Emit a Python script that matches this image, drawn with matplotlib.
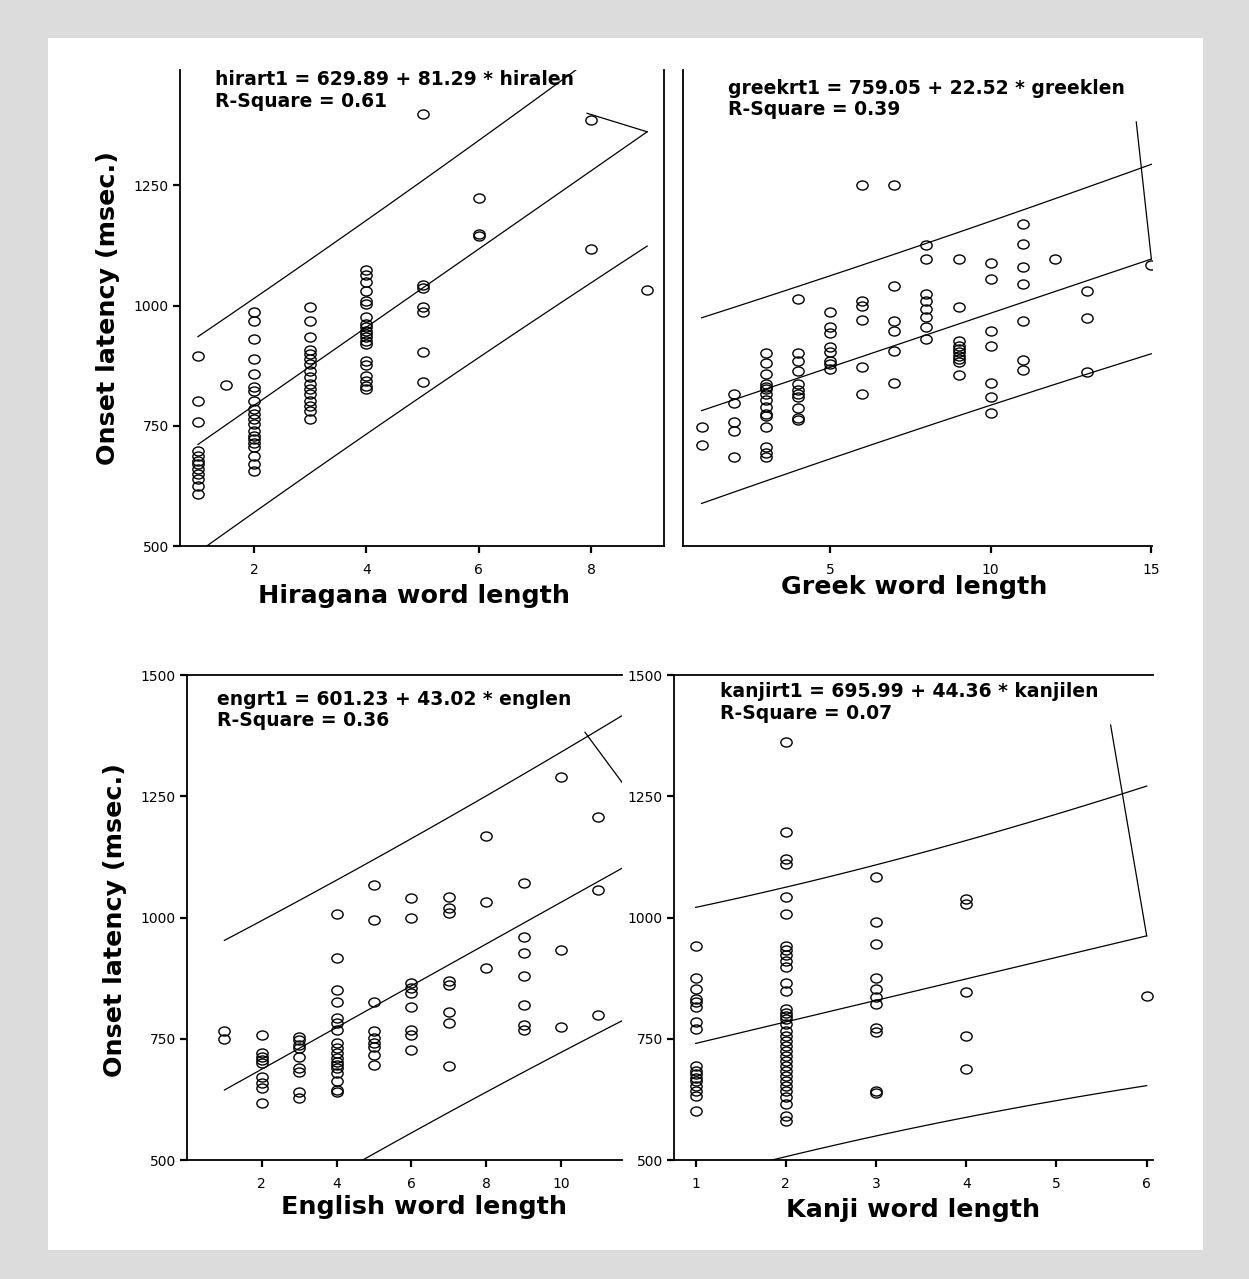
import numpy as np
import matplotlib
matplotlib.use("Agg")
import matplotlib.pyplot as plt
from matplotlib.markers import MarkerStyle
from matplotlib.patches import Rectangle
from matplotlib.transforms import Affine2D

# ---- data ----
hira_x = [1] * 12 + [1.5] + [2] * 20 + [3] * 16 + [4] * 20 + [5] * 7 + [6] * 3 + [8] * 2 + [9]
hira_y = [896, 802, 757, 698, 688, 677, 670, 660, 649, 639, 625, 608,
          835,
          986, 969, 931, 889, 858, 830, 822, 802, 785, 774, 764, 754, 740, 729, 722, 715, 705, 688, 670, 656,
          997, 969, 935, 908, 899, 889, 879, 865, 851, 837, 826, 816, 802, 792, 781, 764,
          1073, 1063, 1049, 1031, 1010, 1004, 976, 962, 955, 948, 941, 934, 927, 920, 885, 877, 854, 844, 833, 826,
          1399, 1042, 1036, 998, 986, 903, 842,
          1224, 1149, 1144,
          1387, 1118,
          1033]

greek_x = ([1] * 2 + [2] * 5 + [3] * 15 + [4] * 11 + [5] * 8 + [6] * 6 + [7] * 6 + [8] * 8
           + [9] * 10 + [10] * 7 + [11] * 7 + [12] + [13] * 3 + [15])
greek_y = [747, 710,
           816, 797, 757, 740, 686,
           901, 880, 858, 837, 831, 826, 816, 804, 790, 774, 771, 747, 705, 694, 685,
           1014, 901, 885, 865, 837, 824, 816, 809, 788, 767, 762,
           986, 955, 944, 913, 903, 885, 879, 868,
           1250, 1010, 1000, 970, 873, 816,
           1250, 1040, 967, 947, 905, 840,
           1125, 1096, 1024, 1009, 993, 976, 955, 931,
           1096, 998, 927, 917, 910, 903, 896, 889, 882, 856,
           1088, 1056, 947, 917, 840, 809, 776,
           1169, 1128, 1080, 1044, 967, 887, 866,
           1096,
           1031, 974, 861,
           1085]

eng_x = ([1] * 2 + [2] * 9 + [3] * 9 + [4] * 18 + [5] * 9 + [6] * 9 + [7] * 8 + [8] * 3
         + [9] * 7 + [10] * 3 + [11] * 3)
eng_y = [766, 749,
         758, 720, 713, 706, 699, 672, 658, 648, 617,
         754, 747, 737, 730, 713, 689, 682, 641, 627,
         1007, 916, 851, 826, 792, 782, 768, 741, 730, 720, 710, 703, 696, 689, 679, 662, 644, 641,
         1067, 995, 826, 765, 751, 741, 734, 717, 696,
         1040, 1000, 864, 854, 844, 816, 768, 758, 727,
         1043, 1019, 1009, 870, 861, 806, 782, 694,
         1168, 1031, 895,
         1072, 959, 926, 879, 820, 778, 768,
         1289, 932, 775,
         1208, 1057, 799]

kanji_x = [1] * 17 + [2] * 35 + [3] * 11 + [4] * 5 + [6]
kanji_y = [942, 875, 853, 832, 825, 815, 784, 770, 694, 684, 677, 670, 663, 653, 643, 632, 601,
           1362, 1176, 1121, 1110, 1043, 1008, 942, 932, 922, 911, 897, 864, 849, 811, 804, 797, 790,
           780, 767, 756, 746, 736, 725, 715, 705, 694, 684, 674, 663, 653, 643, 629, 615, 591, 580,
           1083, 990, 946, 875, 853, 836, 822, 773, 763, 643, 639,
           1039, 1028, 846, 756, 687,
           839]

fits = {
    "hira": (629.89, 81.29, 0.61, 112),
    "greek": (759.05, 22.52, 0.39, 96),
    "eng": (601.23, 43.02, 0.36, 153),
    "kanji": (695.99, 44.36, 0.07, 140),
}

# stray segments drawn by the original program at the right end of each fit
hira_stray_x, hira_stray_y = [7.93, 9.0], [1400, 1361.5]
greek_stray_x, greek_stray_y = [14.53, 15.0], [1382, 1096.9]
eng_stray_x, eng_stray_y = [10.64, 12.0], [1382, 1240]
kanji_stray_x, kanji_stray_y = [5.6, 6.0], [1397, 962.2]

W, H = 1249, 1279
fig = plt.figure(figsize=(W / 100, H / 100), dpi=100, facecolor="#dcdcdc")
fig.patches.append(Rectangle((48 / W, 1 - 1250 / H), (1203 - 48) / W, (1250 - 38) / H,
                             transform=fig.transFigure, facecolor="white",
                             edgecolor="none", zorder=-5))

ring = MarkerStyle("o", fillstyle="none", transform=Affine2D().scale(1.25, 1.0))


def box(left, right, top, bottom):
    return [left / W, 1 - bottom / H, (right - left) / W, (bottom - top) / H]


def panel(rect, x, y, key, xlim, ylim, xticks, yticks, line_end, stray, eqn, txt_pos, spines):
    ax = fig.add_axes(box(*rect))
    ax.set_facecolor("none")
    b0, b1, r2, sd = fits[key]
    x = np.array(x, float)
    y = np.array(y, float)
    ax.plot(x, y, linestyle="none", marker=ring, ms=6.5, mew=1.0, mec="black")

    xs = np.linspace(1, line_end, 100)
    n = len(x)
    sxx = ((x - x.mean()) ** 2).sum()
    half = 1.97 * sd * np.sqrt(1 + 1 / n + (xs - x.mean()) ** 2 / sxx)
    fit = b0 + b1 * xs
    for yy in (fit, fit + half, fit - half):
        ax.plot(xs, yy, color="black", lw=0.9)
    ax.plot(stray[0], stray[1], color="black", lw=0.9)

    ax.set_xlim(*xlim)
    ax.set_ylim(*ylim)
    ax.set_xticks(xticks)
    ax.set_xticklabels([str(t) for t in xticks])
    ax.set_yticks(yticks)
    ax.tick_params(direction="out", length=5, width=1.6, labelsize=10, pad=3)
    ax.tick_params(axis="x", pad=7)
    for side in ("left", "right", "top", "bottom"):
        ax.spines[side].set_visible(side in spines)
        ax.spines[side].set_linewidth(1.3)
    ax.text(txt_pos[0], txt_pos[1], eqn, transform=ax.transAxes, fontsize=13.5,
            fontweight="bold", va="center")
    ax.text(txt_pos[0], txt_pos[2], "R-Square = %.2f" % r2, transform=ax.transAxes,
            fontsize=13.5, fontweight="bold", va="center")
    return ax


panel((180, 664, 70, 546), hira_x, hira_y, "hira", (0.68, 9.3), (500, 1490), [2, 4, 6, 8],
      [500, 750, 1000, 1250], 9, (hira_stray_x, hira_stray_y),
      "hirart1 = 629.89 + 81.29 * hiralen", (0.072, 0.979, 0.933),
      ("left", "bottom", "right"))
panel((683, 1152, 70, 546), greek_x, greek_y, "greek", (0.42, 15.02), (500, 1490), [5, 10, 15],
      [], 15, (greek_stray_x, greek_stray_y), "greekrt1 = 759.05 + 22.52 * greeklen",
      (0.096, 0.962, 0.916), ("left", "bottom"))
panel((187, 622, 675, 1160), eng_x, eng_y, "eng", (0.0, 11.63), (500, 1500), [2, 4, 6, 8, 10],
      [500, 750, 1000, 1250, 1500], 12, (eng_stray_x, eng_stray_y),
      "engrt1 = 601.23 + 43.02 * englen", (0.069, 0.950, 0.907),
      ("left", "bottom", "top"))
panel((674, 1153, 675, 1160), kanji_x, kanji_y, "kanji", (0.76, 6.07), (500, 1500),
      [1, 2, 3, 4, 5, 6], [500, 750, 1000, 1250, 1500], 6, (kanji_stray_x, kanji_stray_y),
      "kanjirt1 = 695.99 + 44.36 * kanjilen", (0.096, 0.965, 0.920),
      ("left", "bottom", "top"))


def label(x, y, s, rot=0):
    fig.text(x / W, 1 - y / H, s, fontsize=18.3, fontweight="bold", ha="center",
             va="center", rotation=rot)


label(108, 308, "Onset latency (msec.)", 90)
label(115, 920, "Onset latency (msec.)", 90)
label(414, 596, "Hiragana word length")
label(914, 587, "Greek word length")
label(424, 1207, "English word length")
label(913, 1210, "Kanji word length")

fig.savefig("out.png", dpi=100, facecolor=fig.get_facecolor())
